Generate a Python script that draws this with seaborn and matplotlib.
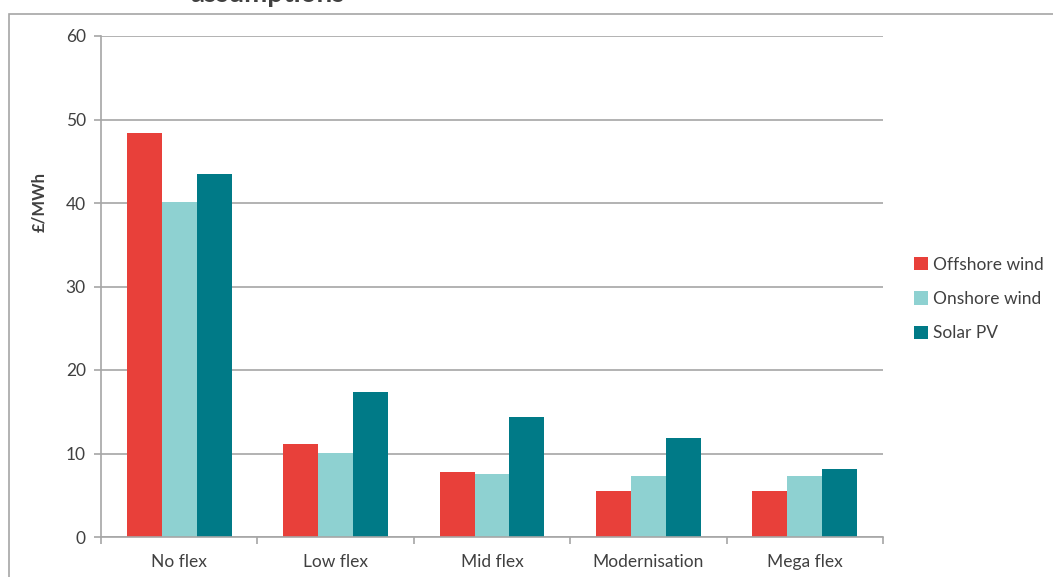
import matplotlib
matplotlib.use("Agg")
import matplotlib.pyplot as plt
import seaborn as sns
import pandas as pd
import numpy as np
from matplotlib.patches import Rectangle

categories = ["No flex", "Low flex", "Mid flex", "Modernisation", "Mega flex"]
series = ["Offshore wind", "Onshore wind", "Solar PV"]
offshore = [48.4, 11.1, 7.8, 5.5, 5.5]
onshore = [40.1, 10.1, 7.5, 7.3, 7.3]
solar = [43.5, 17.4, 14.4, 11.9, 8.1]
colors = ["#E8403A", "#8ED1D1", "#007A87"]
yticks = [0, 10, 20, 30, 40, 50, 60]

rows = []
for name, vals in zip(series, [offshore, onshore, solar]):
    for c, v in zip(categories, vals):
        rows.append({"Scenario": c, "Technology": name, "Value": v})
df = pd.DataFrame(rows)

sns.set_theme(style="white")
plt.rcParams["font.family"] = ["Lato", "DejaVu Sans"]
text_color = "#404040"

fig = plt.figure(figsize=(10.53, 5.77), dpi=100)
ax = fig.add_axes([101/1053, 1-537/577, (883-101)/1053, (537-36)/577])

sns.barplot(data=df, x="Scenario", y="Value", hue="Technology", order=categories,
            hue_order=series, palette=colors, width=0.67, saturation=1,
            errorbar=None, ax=ax, edgecolor="none", linewidth=0)

ax.set_ylim(0, 60)
ax.set_xlim(-0.5, 4.5)
ax.set_yticks(yticks)
ax.yaxis.grid(True, color="#A6A6A6", linewidth=1.2)
ax.set_axisbelow(True)
for s in ["top", "right"]:
    ax.spines[s].set_visible(False)
for s in ["left", "bottom"]:
    ax.spines[s].set_color("#A6A6A6")
    ax.spines[s].set_linewidth(1.2)
ax.tick_params(axis="y", length=5, color="#A6A6A6", width=1.2, labelsize=12.5,
               labelcolor=text_color, pad=6, left=True)
ax.tick_params(axis="x", which="major", length=0, labelsize=12.5,
               labelcolor=text_color, pad=12)
ax.set_xticks(np.arange(-0.5, 5.0, 1.0), minor=True)
ax.tick_params(axis="x", which="minor", length=5, color="#A6A6A6", width=1.2, bottom=True)
ax.set_xlabel("")
ax.set_ylabel("£/MWh", fontsize=12, fontweight="bold", color=text_color)
ax.yaxis.set_label_coords(-0.069, 0.669)

leg = ax.legend(loc="center left", bbox_to_anchor=(1.02, 0.475), frameon=False,
                fontsize=12.5, handlelength=0.8, handleheight=0.8, handletextpad=0.3,
                labelspacing=1.05)
for t in leg.get_texts():
    t.set_color(text_color)

fig.patches.append(Rectangle((9/1053, -0.1), 1.2, 1 - 14/577 + 0.1, transform=fig.transFigure,
                             fill=False, edgecolor="#A6A6A6", linewidth=1.2))
fig.text(268/1053, 1.011, "assumptions", ha="center", va="center", fontsize=20,
         fontweight="bold", color="#404040")

fig.savefig("out.png", dpi=100)
